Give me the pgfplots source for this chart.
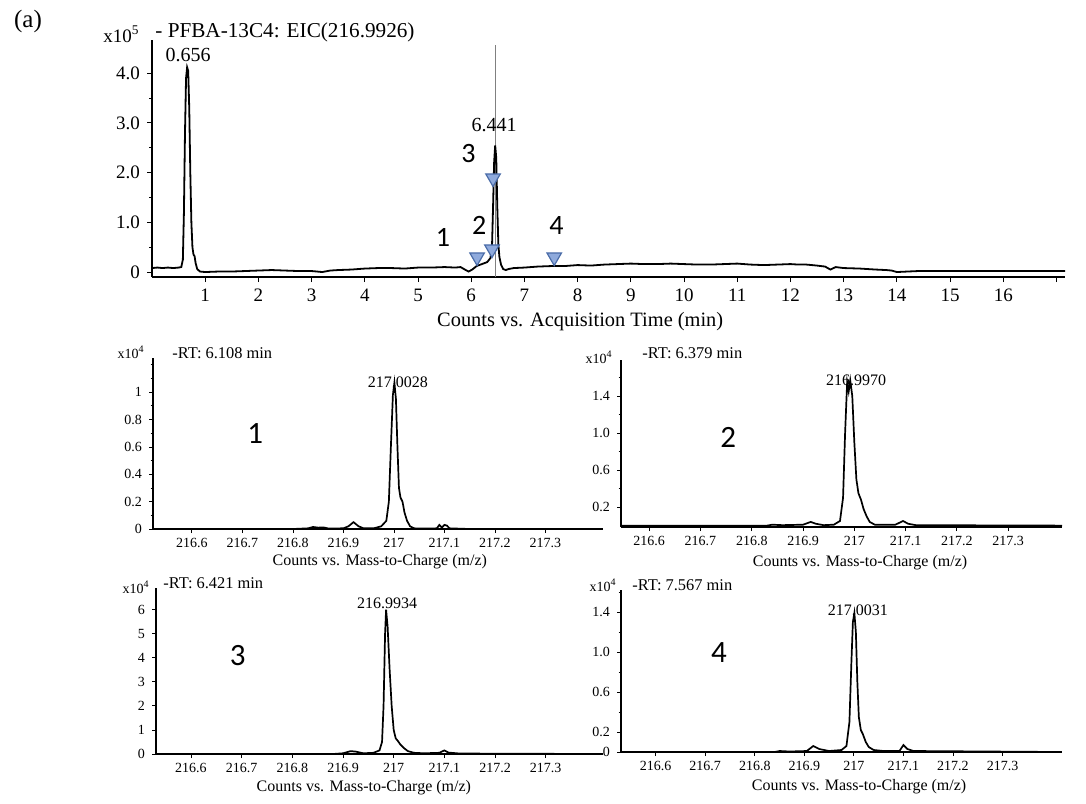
\documentclass[border=0pt]{standalone}
\usepackage{pgfplots}
\pgfplotsset{compat=1.18}
\usepackage{fontspec}
\setmainfont{Liberation Serif}
\newfontfamily\calfont{Carlito}
\newcommand{\fs}[1]{\fontsize{#1}{#1}\selectfont}
\definecolor{trifill}{HTML}{8FAADC}
\definecolor{triedge}{HTML}{4A6CA8}
\pgfplotsset{
  sub/.style={scale only axis, anchor=south west, axis lines=left,
    axis line style={-, line width=1pt},
    x axis line style={line width=1.4pt},
    tick align=outside, major tick length=2pt, minor tick length=1.2pt,
    tick style={line width=0.4pt, black},
    ticklabel style={font=\fs{7}},
    xticklabel style={yshift=1pt},
    xtick={216.6,216.7,216.8,216.9,217,217.1,217.2,217.3},
    xticklabels={216.6,216.7,216.8,216.9,217,217.1,217.2,217.3},
    clip=false,
    xlabel={Counts vs. Mass-to-Charge (m/z)},
    xlabel style={font=\fs{8}, anchor=center},
    /pgf/number format/assume math mode=true,
  },
  spec/.style={black, line width=0.85pt, mark=none},
}
\begin{document}
\begin{tikzpicture}
\useasboundingbox (0,0) rectangle (543pt,-401.5pt);
\node at (14pt,-10.5pt) {\fs{12.5}(a)};
\node[anchor=east, inner sep=0] at (70pt,-17pt) {\fs{9.5}x10\textsuperscript{5}};
\node[anchor=west, inner sep=0] at (77.5pt,-16pt) {\fs{10.6}- PFBA-13C4: EIC(216.9926)};

% ---------------- top chromatogram ----------------
\begin{axis}[at={(76pt,-138.5pt)}, anchor=south west, scale only axis,
  width=456.5pt, height=118.5pt,
  xmin=0, xmax=17.16, ymin=-0.1, ymax=4.67,
  axis lines=left, axis line style={-, line width=0.7pt},
  tick align=outside, major tick length=2.5pt, minor tick length=1.5pt,
  tick style={black, line width=0.5pt},
  xtick={1,2,3,4,5,6,7,8,9,10,11,12,13,14,15,16,17},
  xticklabels={1,2,3,4,5,6,7,8,9,10,11,12,13,14,15,16,{}},
  ytick={0,1,2,3,4}, yticklabels={0,1.0,2.0,3.0,4.0},
  minor ytick={0.5,1.5,2.5,3.5},
  ticklabel style={font=\fs{9.5}},
  xlabel={Counts vs. Acquisition Time (min)},
  xlabel style={font=\fs{10.2}, at={(axis description cs:0.469,0)}, anchor=center, yshift=-22.5pt},
  clip=false,
  /pgf/number format/assume math mode=true]
\addplot[gray, line width=0.4pt] coordinates {(6.45,-0.1) (6.45,4.57)};
\addplot[black, line width=0.9pt] coordinates {
(0,0.08) (0.1,0.09) (0.2,0.08) (0.3,0.09) (0.4,0.08) (0.5,0.09) (0.55,0.1) (0.58,0.25)
(0.6,1.2) (0.62,2.8) (0.64,3.9) (0.66,4.12) (0.68,4.05) (0.7,3.3) (0.72,2.0) (0.74,1.0)
(0.76,0.5) (0.78,0.35) (0.8,0.32) (0.82,0.18) (0.85,0.06) (0.9,0.01) (1.0,0.0) (1.25,0.01)
(1.5,0.01) (1.75,0.02) (2.0,0.03) (2.25,0.04) (2.5,0.03) (2.75,0.02) (3.0,0.02) (3.2,0.0)
(3.35,0.03) (3.5,0.04) (3.75,0.05) (4.0,0.07) (4.25,0.08) (4.5,0.08) (4.75,0.07) (5.0,0.09)
(5.25,0.09) (5.5,0.1) (5.7,0.09) (5.8,0.1) (5.88,0.05) (5.95,0.01) (6.02,0.05) (6.1,0.12)
(6.2,0.16) (6.3,0.2) (6.36,0.28) (6.39,0.5) (6.41,1.3) (6.43,2.2) (6.45,2.55) (6.47,2.3)
(6.49,1.3) (6.51,0.55) (6.53,0.3) (6.56,0.15) (6.6,0.06) (6.65,0.04) (6.7,0.06) (6.8,0.08)
(7.0,0.09) (7.25,0.11) (7.5,0.12) (7.75,0.12) (8.0,0.14) (8.25,0.13) (8.5,0.15) (8.75,0.16)
(9.0,0.17) (9.25,0.16) (9.5,0.16) (9.75,0.17) (10.0,0.16) (10.25,0.15) (10.5,0.15) (10.75,0.16)
(11.0,0.17) (11.25,0.15) (11.5,0.14) (11.75,0.15) (12.0,0.16) (12.15,0.15) (12.3,0.15) (12.5,0.13)
(12.65,0.11) (12.75,0.05) (12.85,0.1) (13.0,0.08) (13.3,0.07) (13.6,0.05) (13.8,0.04) (13.9,0.03)
(14.0,0.0) (14.2,0.01) (14.4,0.02) (15.0,0.02) (16.0,0.02) (17.16,0.02)};
\addplot[only marks, mark=triangle*, mark size=4.2pt,
  mark options={rotate=180, fill=trifill, draw=triedge, line width=0.6pt}]
  coordinates {(6.11,0.30) (6.39,0.46) (6.41,1.89) (7.56,0.30)};
\node[font=\fs{10}] at (axis cs:0.68,4.37) {0.656};
\node[font=\fs{10}] at (axis cs:6.43,2.96) {6.441};
\node[font=\calfont\fs{14}] at (axis cs:5.47,0.70) {1};
\node[font=\calfont\fs{14}] at (axis cs:6.15,0.93) {2};
\node[font=\calfont\fs{14}] at (axis cs:5.95,2.39) {3};
\node[font=\calfont\fs{14}] at (axis cs:7.6,0.93) {4};
\end{axis}

% ---------------- spectrum 1 ----------------
\begin{axis}[sub, at={(76.5pt,-264.5pt)}, width=225pt, height=85.5pt,
  xmin=216.523, xmax=217.414, ymin=0, ymax=1.25,
  ytick={0,0.2,0.4,0.6,0.8,1}, yticklabels={0,0.2,0.4,0.6,0.8,1},
  minor ytick={0.1,0.3,0.5,0.7,0.9,1.1,1.2},
  xlabel style={at={(axis description cs:0.504,0)}, yshift=-16.5pt}]
\addplot[spec] coordinates {
(216.523,0) (216.80,0) (216.83,0.005) (216.84,0.015) (216.85,0.01) (216.86,0.012) (216.87,0.004)
(216.90,0.005) (216.91,0.02) (216.92,0.05) (216.93,0.02) (216.94,0.005) (216.96,0.005)
(216.975,0.02) (216.985,0.06) (216.990,0.2) (216.994,0.6) (216.998,0.98) (217.001,1.07)
(217.004,0.95) (217.007,0.6) (217.010,0.3) (217.013,0.23) (217.017,0.2) (217.021,0.12)
(217.026,0.06) (217.032,0.02) (217.04,0.005) (217.06,0.003) (217.085,0.005) (217.09,0.03)
(217.095,0.01) (217.1,0.03) (217.105,0.025) (217.11,0.005) (217.15,0) (217.414,0)};
\node[anchor=east, inner sep=0, font=\fs{7}] at (rel axis cs:0,1) [xshift=-4pt, yshift=3pt] {x10\textsuperscript{4}};
\node[anchor=west, inner sep=0, font=\fs{8.2}] at (rel axis cs:0,1) [xshift=9.5pt, yshift=2.5pt] {-RT: 6.108 min};
\node[font=\fs{8}] at (rel axis cs:0.544,0.86) {217.0028};
\node[font=\calfont\fs{15.5}] at (rel axis cs:0.227,0.561) {1};
\end{axis}

% ---------------- spectrum 2 ----------------
\begin{axis}[sub, at={(310.5pt,-263.5pt)}, width=220.5pt, height=83.5pt,
  xmin=216.545, xmax=217.405, ymin=-0.015, ymax=1.79,
  ytick={0.2,0.6,1.0,1.4}, yticklabels={0.2,0.6,1.0,1.4},
  minor ytick={0.4,0.8,1.2,1.6},
  xlabel style={at={(axis description cs:0.542,0)}, yshift=-18pt}]
\addplot[spec] coordinates {
(216.545,0) (216.83,0) (216.84,0.01) (216.86,0.005) (216.90,0.01) (216.915,0.04) (216.925,0.02)
(216.94,0.005) (216.96,0.01) (216.972,0.05) (216.978,0.3) (216.982,1.0) (216.986,1.55)
(216.989,1.45) (216.992,1.57) (216.996,1.4) (217.0,0.9) (217.004,0.5) (217.008,0.35)
(217.013,0.28) (217.018,0.18) (217.024,0.1) (217.03,0.04) (217.04,0.01) (217.08,0.01)
(217.095,0.05) (217.105,0.02) (217.12,0.005) (217.405,0)};
\node[anchor=east, inner sep=0, font=\fs{7}] at (rel axis cs:0,1) [xshift=-4pt, yshift=1.5pt] {x10\textsuperscript{4}};
\node[anchor=west, inner sep=0, font=\fs{8.2}] at (rel axis cs:0,1) [xshift=10.5pt, yshift=3.5pt] {-RT: 6.379 min};
\node[font=\fs{8}] at (rel axis cs:0.533,0.88) {216.9970};
\node[font=\calfont\fs{15.5}] at (rel axis cs:0.243,0.539) {2};
\end{axis}

% ---------------- spectrum 3 ----------------
\begin{axis}[sub, at={(78pt,-377pt)}, width=223.5pt, height=83pt,
  xmin=216.531, xmax=217.413, ymin=0, ymax=6.9,
  ytick={0,1,2,3,4,5,6}, yticklabels={0,1,2,3,4,5,6},
  xlabel style={at={(axis description cs:0.465,0)}, yshift=-17pt}]
\addplot[spec] coordinates {
(216.531,0) (216.88,0) (216.90,0.03) (216.915,0.12) (216.925,0.1) (216.94,0.03) (216.96,0.05)
(216.972,0.15) (216.977,0.5) (216.980,2.0) (216.983,5.0) (216.985,6.0) (216.988,5.3)
(216.992,3.5) (216.996,2.0) (217.0,1.0) (217.004,0.65) (217.008,0.55) (217.013,0.4)
(217.02,0.25) (217.028,0.12) (217.04,0.05) (217.06,0.03) (217.09,0.05) (217.1,0.15)
(217.108,0.06) (217.13,0.02) (217.413,0)};
\node[anchor=east, inner sep=0, font=\fs{7}] at (rel axis cs:0,1) [xshift=-3pt, yshift=0.5pt] {x10\textsuperscript{4}};
\node[anchor=west, inner sep=0, font=\fs{8.2}] at (rel axis cs:0,1) [xshift=3.5pt, yshift=2.5pt] {-RT: 6.421 min};
\node[font=\fs{8}] at (rel axis cs:0.517,0.91) {216.9934};
\node[font=\calfont\fs{15.5}] at (rel axis cs:0.183,0.596) {3};
\end{axis}

% ---------------- spectrum 4 ----------------
\begin{axis}[sub, at={(310.5pt,-376pt)}, width=220.5pt, height=81pt,
  xmin=216.53, xmax=217.42, ymin=0, ymax=1.62,
  ytick={0,0.2,0.6,1.0,1.4}, yticklabels={0,0.2,0.6,1.0,1.4},
  minor ytick={0.4,0.8,1.2,1.6},
  xlabel style={at={(axis description cs:0.54,0)}, yshift=-17.5pt}]
\addplot[spec] coordinates {
(216.53,0) (216.84,0) (216.85,0.01) (216.87,0.005) (216.905,0.01) (216.918,0.06) (216.93,0.03)
(216.95,0.01) (216.975,0.02) (216.985,0.06) (216.991,0.3) (216.995,0.9) (216.998,1.3)
(217.001,1.39) (217.004,1.2) (217.007,0.7) (217.01,0.35) (217.014,0.22) (217.018,0.18)
(217.024,0.1) (217.03,0.05) (217.04,0.02) (217.06,0.01) (217.092,0.01) (217.1,0.07)
(217.108,0.03) (217.12,0.01) (217.42,0)};
\node[anchor=east, inner sep=0, font=\fs{7}] at (rel axis cs:0,1) [xshift=-2pt, yshift=2.5pt] {x10\textsuperscript{4}};
\node[anchor=west, inner sep=0, font=\fs{8.2}] at (rel axis cs:0,1) [xshift=5.5pt, yshift=2.5pt] {-RT: 7.567 min};
\node[font=\fs{8}] at (rel axis cs:0.537,0.877) {217.0031};
\node[font=\calfont\fs{15.5}] at (rel axis cs:0.222,0.617) {4};
\end{axis}
\end{tikzpicture}
\end{document}
